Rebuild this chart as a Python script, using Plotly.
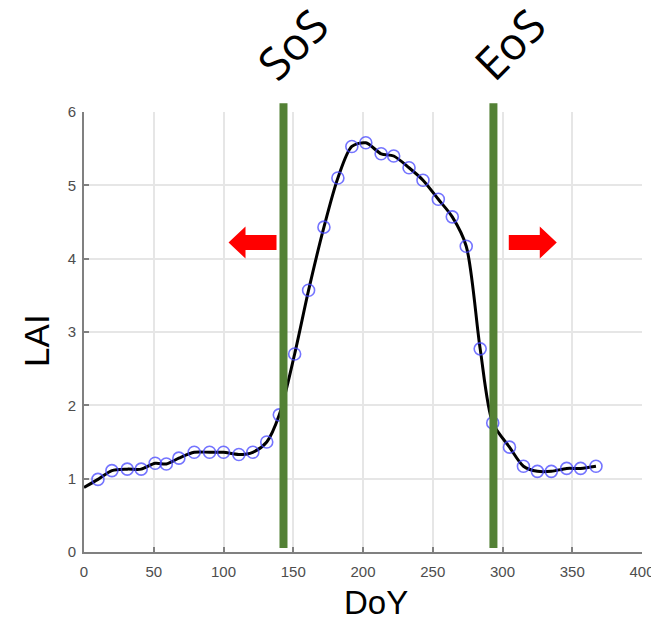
import plotly.graph_objects as go

# LAI observations (day of year, value)
doy = [10, 20, 31, 41, 51, 59, 68, 79, 90, 100, 111, 121, 131, 140, 151, 161, 172, 182,
       192, 202, 213, 222, 233, 243, 254, 264, 274, 284, 293, 305, 315, 325, 335, 346, 356, 367]
lai = [0.99, 1.11, 1.13, 1.13, 1.21, 1.20, 1.28, 1.36, 1.36, 1.36, 1.33, 1.36, 1.50, 1.87,
       2.70, 3.57, 4.43, 5.10, 5.53, 5.58, 5.43, 5.40, 5.24, 5.07, 4.81, 4.57, 4.17, 2.77,
       1.76, 1.43, 1.17, 1.10, 1.10, 1.14, 1.14, 1.17]

# smoothed curve starts at day 0
curve_x = [0] + doy
curve_y = [0.88] + lai

# season markers
sos = 143
eos = 293.5
arrow_y = 4.22

green = "#538135"
tick_font = dict(family="Liberation Sans, Arial", size=15, color="#4d4d4d")
title_font = dict(family="Liberation Sans, Arial", color="black")

fig = go.Figure()
fig.add_trace(go.Scatter(x=curve_x, y=curve_y, mode="lines",
                         line=dict(color="black", width=3, shape="spline", smoothing=0.8),
                         hoverinfo="skip"))
fig.add_trace(go.Scatter(x=doy, y=lai, mode="markers",
                         marker=dict(symbol="circle-open", size=12, color="rgba(70,70,255,0.75)",
                                     line=dict(width=1.6))))

# vertical SoS / EoS bars
for xv in [sos, eos]:
    fig.add_shape(type="line", xref="x", yref="paper", x0=xv, x1=xv, y0=0.009, y1=1.02,
                  line=dict(color=green, width=8), layer="above")

# block arrows (pixel paths anchored at data points)
left_arrow = "M0,7.5 L-31,7.5 L-31,16 L-48,0 L-31,-16 L-31,-7.5 L0,-7.5 Z"
right_arrow = "M0,7.5 L31,7.5 L31,16 L48,0 L31,-16 L31,-7.5 L0,-7.5 Z"
for xa, p in [(sos - 5, left_arrow), (eos + 11, right_arrow)]:
    fig.add_shape(type="path", xref="x", yref="y", xsizemode="pixel", ysizemode="pixel",
                  xanchor=xa, yanchor=arrow_y, path=p,
                  fillcolor="#ff0000", line=dict(width=0), layer="above")

for xv, label, dx in [(sos, "SoS", 9), (eos, "EoS", 16)]:
    fig.add_annotation(x=xv, y=1.155, xref="x", yref="paper", text=label, showarrow=False,
                       textangle=-45, xshift=dx, xanchor="center", yanchor="middle",
                       font=dict(family="Open Sans", size=45, color="black"))

# axis titles
fig.add_annotation(x=0.523, y=0, xref="paper", yref="paper", text="DoY", showarrow=False,
                   xanchor="center", yanchor="middle", yshift=-50,
                   font=dict(size=33, **title_font))
fig.add_annotation(x=-0.085, y=0.481, xref="paper", yref="paper", text="LAI", showarrow=False,
                   textangle=-90, xanchor="center", yanchor="middle",
                   font=dict(size=35, **title_font))

fig.update_xaxes(range=[0, 400], tickvals=list(range(0, 401, 50)),
                 showgrid=True, gridcolor="#e6e6e6", gridwidth=1.5,
                 showline=True, linecolor="#808080", linewidth=2,
                 ticks="inside", ticklen=5, tickcolor="#808080", tickwidth=1.5,
                 tickfont=tick_font, ticklabelstandoff=5, zeroline=False, automargin=False)
fig.update_yaxes(range=[0, 6], tickvals=list(range(0, 7)),
                 showgrid=True, gridcolor="#e6e6e6", gridwidth=1.5,
                 showline=True, linecolor="#808080", linewidth=2,
                 ticks="inside", ticklen=5, tickcolor="#808080", tickwidth=1.5,
                 tickfont=tick_font, ticklabelstandoff=3, zeroline=False, automargin=False)

# page body adds an 8px offset, so the figure is drawn 8px smaller
fig.update_layout(width=651, height=612, showlegend=False,
                  margin=dict(l=76, r=17, t=104, b=68),
                  plot_bgcolor="white", paper_bgcolor="white")

fig.write_html("out.html")
